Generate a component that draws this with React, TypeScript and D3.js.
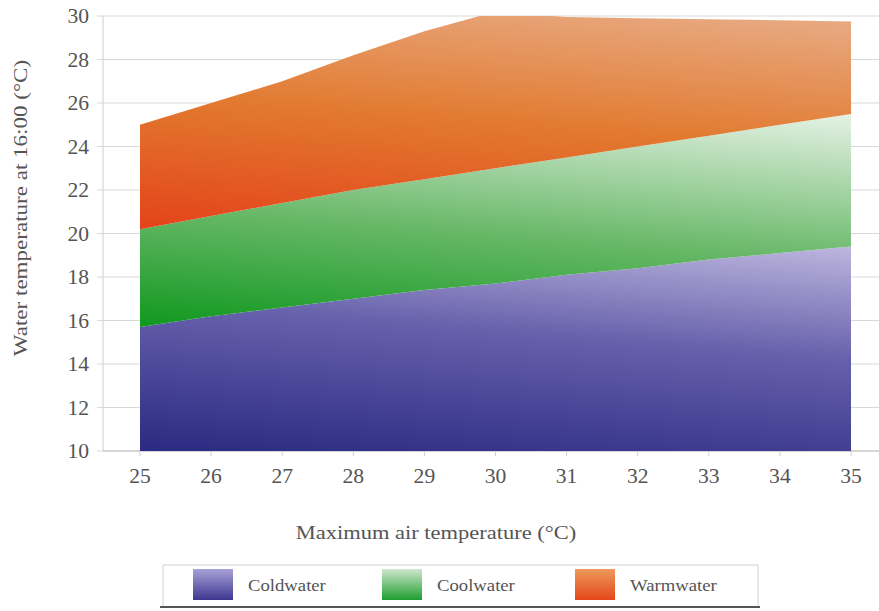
import React from "react";
import * as d3 from "d3";

const airTemps = [25, 26, 27, 28, 29, 30, 31, 32, 33, 34, 35];
const coldUpper = [15.7, 16.2, 16.6, 17.0, 17.4, 17.7, 18.1, 18.4, 18.8, 19.1, 19.4];
const coolUpper = [20.2, 20.8, 21.4, 22.0, 22.5, 23.0, 23.5, 24.0, 24.5, 25.0, 25.5];
const warmUpper = [25.0, 26.0, 27.0, 28.2, 29.3, 30.2, 29.95, 29.9, 29.85, 29.8, 29.75];
const yTicks = [10, 12, 14, 16, 18, 20, 22, 24, 26, 28, 30];
const seriesNames = ["Coldwater", "Coolwater", "Warmwater"];

const W = 879;
const H = 611;

const x = d3.scaleLinear().domain([25, 35]).range([140, 851]);
const y = d3.scaleLinear().domain([10, 30]).range([451, 16]);

const gradStops: Record<string, [number, string][]> = {
  Coldwater: [[0, "#2a2a82"], [0.55, "#6761ac"], [1, "#c4bde2"]],
  Coolwater: [[0, "#10981f"], [0.45, "#68b868"], [1, "#e6f2e6"]],
  Warmwater: [[0, "#e4431a"], [0.5, "#e27a30"], [1, "#e8ac86"]],
};
const legendStops: Record<string, [number, string][]> = {
  Coldwater: [[0, "#a9a2d8"], [1, "#3d3790"]],
  Coolwater: [[0, "#cfe6cf"], [1, "#1e9e2e"]],
  Warmwater: [[0, "#ee9a5c"], [1, "#e4461a"]],
};

const font = "'Liberation Serif', 'Times New Roman', 'DejaVu Serif', serif";

function T(props: {
  x: number;
  y: number;
  size: number;
  sx?: number;
  rot?: number;
  anchor?: "start" | "middle" | "end";
  children: React.ReactNode;
}) {
  const { x: tx, y: ty, size, sx = 1, rot = 0, anchor = "start", children } = props;
  return (
    <text
      transform={`translate(${tx},${ty}) rotate(${rot}) scale(${sx},1)`}
      textAnchor={anchor}
      fontSize={size}
      fill="#555"
      style={{ fontFamily: font }}
    >
      {children}
    </text>
  );
}

export default function App() {
  const lowers = [airTemps.map(() => 10), coldUpper, coolUpper];
  const uppers = [coldUpper, coolUpper, warmUpper];
  const area = (lo: number[], hi: number[]) =>
    d3
      .area<number>()
      .x((_, i) => x(airTemps[i]))
      .y0((_, i) => y(lo[i]))
      .y1((_, i) => y(hi[i]))(airTemps) as string;

  const legendX = [193, 382, 575];

  return (
    <svg
      width={W}
      height={H}
      style={{ position: "absolute", left: 0, top: 0, background: "#fff", fontFamily: font }}
    >
      <defs>
        <clipPath id="plotClip">
          <rect x={103} y={y(30)} width={760} height={y(10) - y(30)} />
        </clipPath>
        {seriesNames.map((name, k) => {
          const x1 = x(25);
          const y1 = y(lowers[k][0]);
          return (
            <linearGradient
              key={name}
              id={"g" + k}
              gradientUnits="userSpaceOnUse"
              x1={x1}
              y1={y1}
              x2={x1 + 22}
              y2={y1 - 270}
            >
              {gradStops[name].map(([o, c], i) => (
                <stop key={i} offset={o} stopColor={c} />
              ))}
            </linearGradient>
          );
        })}
        {seriesNames.map((name, k) => (
          <linearGradient key={name} id={"lg" + k} x1={0} y1={0} x2={0} y2={1}>
            {legendStops[name].map(([o, c], i) => (
              <stop key={i} offset={o} stopColor={c} />
            ))}
          </linearGradient>
        ))}
      </defs>

      {yTicks.map((t) => (
        <line key={t} x1={97} x2={W} y1={y(t)} y2={y(t)} stroke="#d9d9d9" strokeWidth={1} />
      ))}
      <line x1={103} x2={103} y1={y(30)} y2={y(10)} stroke="#cfcfcf" />
      <line x1={103} x2={W} y1={y(10)} y2={y(10)} stroke="#bdbdbd" />
      {airTemps.map((t) => (
        <line key={t} x1={x(t)} x2={x(t)} y1={y(10)} y2={y(10) + 5} stroke="#cfcfcf" />
      ))}

      <g clipPath="url(#plotClip)">
        {seriesNames.map((name, k) => (
          <path key={name} d={area(lowers[k], uppers[k])} fill={`url(#g${k})`} />
        ))}
      </g>

      {yTicks.map((t) => (
        <T key={t} x={89} y={y(t) + 7} size={20} sx={1.08} anchor="end">
          {t}
        </T>
      ))}
      {airTemps.map((t) => (
        <T key={t} x={x(t)} y={483} size={20} sx={1.08} anchor="middle">
          {t}
        </T>
      ))}

      <T x={436} y={539} size={18} sx={1.25} anchor="middle">
        Maximum air temperature (°C)
      </T>
      <T x={27} y={208} size={18} sx={1.28} rot={-90} anchor="middle">
        Water temperature at 16:00 (°C)
      </T>

      <rect x={163} y={565} width={595} height={42} fill="#fff" stroke="#d0d0d0" />
      <line x1={160} x2={760} y1={607} y2={607} stroke="#555" strokeWidth={2} />
      {seriesNames.map((name, k) => (
        <g key={name}>
          <rect x={legendX[k]} y={569} width={40} height={31} fill={`url(#lg${k})`} />
          <T x={legendX[k] + 55} y={591} size={17} sx={1.1}>
            {name}
          </T>
        </g>
      ))}
    </svg>
  );
}
